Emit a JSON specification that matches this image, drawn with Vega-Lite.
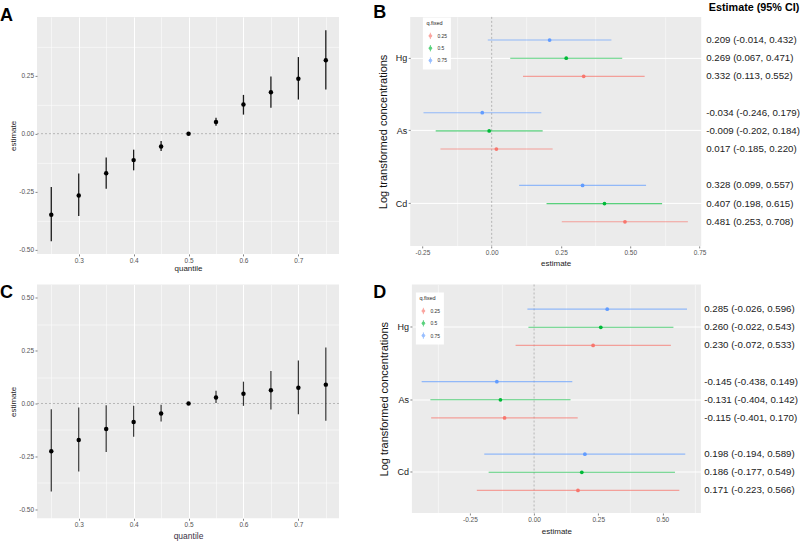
{
  "$schema": "https://vega.github.io/schema/vega-lite/v6.json",
  "padding": {"top": 0.9, "left": 0, "right": 0, "bottom": 0},
  "background": "white",
  "config": {
    "font": "Liberation Sans",
    "view": {"stroke": null},
    "axis": {
      "domain": false,
      "labelOverlap": false,
      "labelFlush": false,
      "tickSize": 2,
      "tickColor": "#333333",
      "tickWidth": 0.6,
      "labelColor": "#555555",
      "labelFontSize": 6.5,
      "labelPadding": 1.5,
      "titleColor": "#222222",
      "titleFontSize": 8,
      "titleFontWeight": "normal",
      "gridColor": "#FFFFFF",
      "gridWidth": 1
    },
    "title": {"fontSize": 18, "fontWeight": "bold", "anchor": "start", "frame": "group", "color": "#000000", "baseline": "alphabetic"},
    "legend": {
      "fillColor": "#FFFFFF",
      "padding": 3.5,
      "titleFontSize": 5.5,
      "titleFontWeight": "normal",
      "titleColor": "#222222",
      "titlePadding": 5.5,
      "labelFontSize": 5,
      "labelColor": "#333333",
      "labelOffset": 3,
      "symbolSize": 40,
      "symbolStrokeWidth": 0.9,
      "rowPadding": 2.3
    }
  },
  "datasets": {
    "qA": [
      {"quantile": 0.25, "est": -0.349, "lo": -0.463, "hi": -0.230},
      {"quantile": 0.30, "est": -0.266, "lo": -0.355, "hi": -0.172},
      {"quantile": 0.35, "est": -0.171, "lo": -0.237, "hi": -0.103},
      {"quantile": 0.40, "est": -0.114, "lo": -0.158, "hi": -0.069},
      {"quantile": 0.45, "est": -0.055, "lo": -0.075, "hi": -0.032},
      {"quantile": 0.50, "est": 0.0, "lo": 0.0, "hi": 0.0},
      {"quantile": 0.55, "est": 0.050, "lo": 0.034, "hi": 0.069},
      {"quantile": 0.60, "est": 0.126, "lo": 0.082, "hi": 0.167},
      {"quantile": 0.65, "est": 0.178, "lo": 0.112, "hi": 0.246},
      {"quantile": 0.70, "est": 0.237, "lo": 0.147, "hi": 0.330},
      {"quantile": 0.75, "est": 0.316, "lo": 0.190, "hi": 0.445}
    ],
    "qC": [
      {"quantile": 0.25, "est": -0.225, "lo": -0.415, "hi": -0.027},
      {"quantile": 0.30, "est": -0.172, "lo": -0.321, "hi": -0.019},
      {"quantile": 0.35, "est": -0.120, "lo": -0.229, "hi": -0.008},
      {"quantile": 0.40, "est": -0.087, "lo": -0.157, "hi": -0.011},
      {"quantile": 0.45, "est": -0.047, "lo": -0.085, "hi": -0.006},
      {"quantile": 0.50, "est": 0.0, "lo": 0.0, "hi": 0.0},
      {"quantile": 0.55, "est": 0.028, "lo": 0.002, "hi": 0.060},
      {"quantile": 0.60, "est": 0.046, "lo": -0.011, "hi": 0.103},
      {"quantile": 0.65, "est": 0.063, "lo": -0.028, "hi": 0.153},
      {"quantile": 0.70, "est": 0.074, "lo": -0.051, "hi": 0.203},
      {"quantile": 0.75, "est": 0.089, "lo": -0.082, "hi": 0.264}
    ],
    "mB": [
      {"metal": "Hg", "q": "0.75", "est": 0.209, "lo": -0.014, "hi": 0.432, "label": "0.209 (-0.014, 0.432)"},
      {"metal": "Hg", "q": "0.5", "est": 0.269, "lo": 0.067, "hi": 0.471, "label": "0.269 (0.067, 0.471)"},
      {"metal": "Hg", "q": "0.25", "est": 0.332, "lo": 0.113, "hi": 0.552, "label": "0.332 (0.113, 0.552)"},
      {"metal": "As", "q": "0.75", "est": -0.034, "lo": -0.246, "hi": 0.179, "label": "-0.034 (-0.246, 0.179)"},
      {"metal": "As", "q": "0.5", "est": -0.009, "lo": -0.202, "hi": 0.184, "label": "-0.009 (-0.202, 0.184)"},
      {"metal": "As", "q": "0.25", "est": 0.017, "lo": -0.185, "hi": 0.220, "label": "0.017 (-0.185, 0.220)"},
      {"metal": "Cd", "q": "0.75", "est": 0.328, "lo": 0.099, "hi": 0.557, "label": "0.328 (0.099, 0.557)"},
      {"metal": "Cd", "q": "0.5", "est": 0.407, "lo": 0.198, "hi": 0.615, "label": "0.407 (0.198, 0.615)"},
      {"metal": "Cd", "q": "0.25", "est": 0.481, "lo": 0.253, "hi": 0.708, "label": "0.481 (0.253, 0.708)"}
    ],
    "mD": [
      {"metal": "Hg", "q": "0.75", "est": 0.285, "lo": -0.026, "hi": 0.596, "label": "0.285 (-0.026, 0.596)"},
      {"metal": "Hg", "q": "0.5", "est": 0.260, "lo": -0.022, "hi": 0.543, "label": "0.260 (-0.022, 0.543)"},
      {"metal": "Hg", "q": "0.25", "est": 0.230, "lo": -0.072, "hi": 0.533, "label": "0.230 (-0.072, 0.533)"},
      {"metal": "As", "q": "0.75", "est": -0.145, "lo": -0.438, "hi": 0.149, "label": "-0.145 (-0.438, 0.149)"},
      {"metal": "As", "q": "0.5", "est": -0.131, "lo": -0.404, "hi": 0.142, "label": "-0.131 (-0.404, 0.142)"},
      {"metal": "As", "q": "0.25", "est": -0.115, "lo": -0.401, "hi": 0.170, "label": "-0.115 (-0.401, 0.170)"},
      {"metal": "Cd", "q": "0.75", "est": 0.198, "lo": -0.194, "hi": 0.589, "label": "0.198 (-0.194, 0.589)"},
      {"metal": "Cd", "q": "0.5", "est": 0.186, "lo": -0.177, "hi": 0.549, "label": "0.186 (-0.177, 0.549)"},
      {"metal": "Cd", "q": "0.25", "est": 0.171, "lo": -0.223, "hi": 0.566, "label": "0.171 (-0.223, 0.566)"}
    ],
    "zero": [{"ref": 0}]
  },
  "bounds": "full",
  "spacing": 10.6,
  "resolve": {"scale": {"x": "independent", "y": "independent", "color": "independent", "yOffset": "independent"}, "legend": {"color": "independent"}},
  "vconcat": [
    {
      "bounds": "full",
      "spacing": 33.2,
      "resolve": {"scale": {"x": "independent", "y": "independent", "color": "independent", "yOffset": "independent"}, "legend": {"color": "independent"}},
      "hconcat": [
        {
          "width": 302,
          "height": 237,
          "view": {"fill": "#EBEBEB", "stroke": null},
          "title": {"text": "A", "dx": -37, "offset": -7.7},
          "resolve": {"axis": {"x": "independent", "y": "independent"}},
          "layer": [
            {
              "data": {"name": "zero"},
              "mark": {"type": "rule", "color": "#A8A8A8", "strokeDash": [2, 2], "strokeWidth": 0.8},
              "encoding": {"y": {"field": "ref", "type": "quantitative",
                "scale": {"domain": [-0.518, 0.503], "nice": false, "zero": false},
                "axis": {"orient": "left", "values": [-0.375, -0.125, 0.125, 0.375], "grid": true, "gridWidth": 0.5, "labels": false, "ticks": false, "title": null}}}
            },
            {
              "data": {"name": "qA"},
              "mark": {"type": "rule", "color": "#1A1A1A", "strokeWidth": 1.3},
              "encoding": {
                "x": {"field": "quantile", "type": "quantitative",
                  "scale": {"domain": [0.224, 0.774], "nice": false, "zero": false},
                  "axis": {"orient": "bottom", "title": "quantile", "titlePadding": 1, "values": [0.3, 0.4, 0.5, 0.6, 0.7], "format": ".1f"}},
                "y": {"field": "lo", "type": "quantitative",
                  "axis": {"orient": "left", "title": "estimate", "titlePadding": 1, "values": [-0.5, -0.25, 0, 0.25],
                    "labelExpr": "replace(format(datum.value,'.2f'),'\u2212','-')"}},
                "y2": {"field": "hi"}
              }
            },
            {
              "data": {"name": "qA"},
              "mark": {"type": "point", "filled": true, "color": "#000000", "size": 20, "opacity": 1},
              "encoding": {
                "x": {"field": "quantile", "type": "quantitative",
                  "axis": {"orient": "bottom", "values": [0.25, 0.35, 0.45, 0.55, 0.65, 0.75], "grid": true, "gridWidth": 0.5, "labels": false, "ticks": false, "title": null}},
                "y": {"field": "est", "type": "quantitative", "axis": null}
              }
            }
          ]
        },
        {
          "bounds": "full",
          "spacing": -2.7,
          "resolve": {"scale": {"x": "independent", "y": "independent", "color": "independent", "yOffset": "independent"}, "legend": {"color": "independent"}},
          "hconcat": [
            {
              "width": 291,
              "height": 229,
              "view": {"fill": "#EBEBEB", "stroke": null},
              "title": {"text": "B", "dx": -37, "offset": -5.7},
              "resolve": {"axis": {"x": "independent"}},
              "layer": [
                {
                  "data": {"name": "zero"},
                  "mark": {"type": "rule", "color": "#A8A8A8", "strokeDash": [2, 2], "strokeWidth": 0.8},
                  "encoding": {"x": {"field": "ref", "type": "quantitative",
                    "scale": {"domain": [-0.294, 0.756], "nice": false, "zero": false},
                    "axis": {"orient": "bottom", "values": [-0.125, 0.125, 0.375, 0.625], "grid": true, "gridWidth": 0.5, "labels": false, "ticks": false, "title": null}}}
                },
                {
                  "data": {"name": "mB"},
                  "mark": {"type": "rule", "strokeWidth": 1.1, "opacity": 0.65},
                  "encoding": {
                    "x": {"field": "lo", "type": "quantitative",
                      "axis": {"orient": "bottom", "title": "estimate", "titlePadding": 4, "values": [-0.25, 0, 0.25, 0.5, 0.75],
                        "labelExpr": "replace(format(datum.value,'.2f'),'\u2212','-')"}},
                    "x2": {"field": "hi"},
                    "y": {"field": "metal", "type": "nominal",
                      "scale": {"type": "band", "domain": ["Hg", "As", "Cd"], "paddingInner": 0, "paddingOuter": 0.075, "align": 0.454},
                      "axis": {"title": "Log transformed concentrations", "titleFontSize": 11, "titleColor": "#111111", "titlePadding": 7,
                        "labelFontSize": 9, "labelColor": "#1A1A1A", "bandPosition": 0.5, "grid": true, "gridWidth": 1}},
                    "yOffset": {"field": "q", "type": "nominal",
                      "scale": {"type": "band", "domain": ["0.75", "0.5", "0.25"], "paddingInner": 0, "paddingOuter": 0.5}},
                    "color": {"field": "q", "type": "nominal",
                      "scale": {"domain": ["0.25", "0.5", "0.75"], "range": ["#F8766D", "#00BA38", "#619CFF"]},
                      "legend": {"title": "q.fixed", "orient": "none", "legendX": 12.7, "legendY": 0.5,
                        "symbolType": "M0,-1L0,1M-0.45,0a0.45,0.45 0 1,0 0.9,0a0.45,0.45 0 1,0 -0.9,0",
                        "encode": {"symbols": {
                          "opacity": {"value": 1},
                          "fill": {"condition": [{"test": "datum.value === '0.25'", "value": "#F8766D"}, {"test": "datum.value === '0.5'", "value": "#00BA38"}], "value": "#619CFF"},
                          "stroke": {"condition": [{"test": "datum.value === '0.25'", "value": "#F8766D"}, {"test": "datum.value === '0.5'", "value": "#00BA38"}], "value": "#619CFF"}}}}}
                  }
                },
                {
                  "data": {"name": "mB"},
                  "mark": {"type": "point", "filled": true, "size": 14, "opacity": 1},
                  "encoding": {
                    "x": {"field": "est", "type": "quantitative", "axis": null},
                    "y": {"field": "metal", "type": "nominal"},
                    "yOffset": {"field": "q", "type": "nominal"},
                    "color": {"field": "q", "type": "nominal",
                      "legend": {"title": "q.fixed", "orient": "none", "legendX": 12.7, "legendY": 0.5,
                        "symbolType": "M0,-1L0,1M-0.45,0a0.45,0.45 0 1,0 0.9,0a0.45,0.45 0 1,0 -0.9,0",
                        "encode": {"symbols": {
                          "opacity": {"value": 1},
                          "fill": {"condition": [{"test": "datum.value === '0.25'", "value": "#F8766D"}, {"test": "datum.value === '0.5'", "value": "#00BA38"}], "value": "#619CFF"},
                          "stroke": {"condition": [{"test": "datum.value === '0.25'", "value": "#F8766D"}, {"test": "datum.value === '0.5'", "value": "#00BA38"}], "value": "#619CFF"}}}}}
                  }
                }
              ]
            },
            {
              "width": 96,
              "height": 229,
              "title": {"text": "Estimate (95% CI)", "fontSize": 10.8, "dx": 2.6, "offset": 4.3},
              "data": {"name": "mB"},
              "mark": {"type": "text", "align": "left", "baseline": "middle", "fontSize": 9.7, "color": "#222222"},
              "encoding": {
                "x": {"datum": 0, "type": "quantitative", "scale": {"domain": [0, 1]}, "axis": null},
                "y": {"field": "metal", "type": "nominal",
                  "scale": {"type": "band", "domain": ["Hg", "As", "Cd"], "paddingInner": 0, "paddingOuter": 0.075, "align": 0.454}, "axis": null},
                "yOffset": {"field": "q", "type": "nominal",
                  "scale": {"type": "band", "domain": ["0.75", "0.5", "0.25"], "paddingInner": 0, "paddingOuter": 0.5}},
                "text": {"field": "label", "type": "nominal"}
              }
            }
          ]
        }
      ]
    },
    {
      "bounds": "full",
      "spacing": 32.9,
      "resolve": {"scale": {"x": "independent", "y": "independent", "color": "independent", "yOffset": "independent"}, "legend": {"color": "independent"}},
      "hconcat": [
        {
          "width": 302,
          "height": 233.8,
          "view": {"fill": "#EBEBEB", "stroke": null},
          "title": {"text": "C", "dx": -37, "offset": -17.5},
          "resolve": {"axis": {"x": "independent", "y": "independent"}},
          "layer": [
            {
              "data": {"name": "zero"},
              "mark": {"type": "rule", "color": "#A8A8A8", "strokeDash": [2, 2], "strokeWidth": 0.8},
              "encoding": {"y": {"field": "ref", "type": "quantitative",
                "scale": {"domain": [-0.542, 0.5618], "nice": false, "zero": false},
                "axis": {"orient": "left", "values": [-0.375, -0.125, 0.125, 0.375], "grid": true, "gridWidth": 0.5, "labels": false, "ticks": false, "title": null}}}
            },
            {
              "data": {"name": "qC"},
              "mark": {"type": "rule", "color": "#333333", "strokeWidth": 1.2},
              "encoding": {
                "x": {"field": "quantile", "type": "quantitative",
                  "scale": {"domain": [0.224, 0.774], "nice": false, "zero": false},
                  "axis": {"orient": "bottom", "title": "quantile", "titlePadding": 3.5, "titleFontSize": 8.5, "titleColor": "#3A3045",
                    "values": [0.3, 0.4, 0.5, 0.6, 0.7], "format": ".1f"}},
                "y": {"field": "lo", "type": "quantitative",
                  "axis": {"orient": "left", "title": "estimate", "titlePadding": 1, "values": [-0.5, -0.25, 0, 0.25, 0.5],
                    "labelExpr": "replace(format(datum.value,'.2f'),'\u2212','-')"}},
                "y2": {"field": "hi"}
              }
            },
            {
              "data": {"name": "qC"},
              "mark": {"type": "point", "filled": true, "color": "#000000", "size": 20, "opacity": 1},
              "encoding": {
                "x": {"field": "quantile", "type": "quantitative",
                  "axis": {"orient": "bottom", "values": [0.25, 0.35, 0.45, 0.55, 0.65, 0.75], "grid": true, "gridWidth": 0.5, "labels": false, "ticks": false, "title": null}},
                "y": {"field": "est", "type": "quantitative", "axis": null}
              }
            }
          ]
        },
        {
          "bounds": "full",
          "spacing": 3.3,
          "resolve": {"scale": {"x": "independent", "y": "independent", "color": "independent", "yOffset": "independent"}, "legend": {"color": "independent"}},
          "hconcat": [
            {
              "width": 289,
              "height": 228.5,
              "view": {"fill": "#EBEBEB", "stroke": null},
              "title": {"text": "D", "dx": -38.7, "offset": -17.5},
              "resolve": {"axis": {"x": "independent"}},
              "layer": [
                {
                  "data": {"name": "zero"},
                  "mark": {"type": "rule", "color": "#A8A8A8", "strokeDash": [2, 2], "strokeWidth": 0.8},
                  "encoding": {"x": {"field": "ref", "type": "quantitative",
                    "scale": {"domain": [-0.476, 0.65], "nice": false, "zero": false},
                    "axis": {"orient": "bottom", "values": [-0.375, -0.125, 0.125, 0.375, 0.625], "grid": true, "gridWidth": 0.5, "labels": false, "ticks": false, "title": null}}}
                },
                {
                  "data": {"name": "mD"},
                  "mark": {"type": "rule", "strokeWidth": 1.1, "opacity": 0.65},
                  "encoding": {
                    "x": {"field": "lo", "type": "quantitative",
                      "axis": {"orient": "bottom", "title": "estimate", "titlePadding": 5, "values": [-0.25, 0, 0.25, 0.5],
                        "labelExpr": "replace(format(datum.value,'.2f'),'\u2212','-')"}},
                    "x2": {"field": "hi"},
                    "y": {"field": "metal", "type": "nominal",
                      "scale": {"type": "band", "domain": ["Hg", "As", "Cd"], "paddingInner": 0, "paddingOuter": 0.0759, "align": 0.595},
                      "axis": {"title": "Log transformed concentrations", "titleFontSize": 11, "titleColor": "#111111", "titlePadding": 7,
                        "labelFontSize": 9, "labelColor": "#1A1A1A", "bandPosition": 0.5, "grid": true, "gridWidth": 1}},
                    "yOffset": {"field": "q", "type": "nominal",
                      "scale": {"type": "band", "domain": ["0.75", "0.5", "0.25"], "paddingInner": 0, "paddingOuter": 0.5}},
                    "color": {"field": "q", "type": "nominal",
                      "scale": {"domain": ["0.25", "0.5", "0.75"], "range": ["#F8766D", "#00BA38", "#619CFF"]},
                      "legend": {"title": "q.fixed", "orient": "none", "legendX": 4, "legendY": 8,
                        "symbolType": "M0,-1L0,1M-0.45,0a0.45,0.45 0 1,0 0.9,0a0.45,0.45 0 1,0 -0.9,0",
                        "encode": {"symbols": {
                          "opacity": {"value": 1},
                          "fill": {"condition": [{"test": "datum.value === '0.25'", "value": "#F8766D"}, {"test": "datum.value === '0.5'", "value": "#00BA38"}], "value": "#619CFF"},
                          "stroke": {"condition": [{"test": "datum.value === '0.25'", "value": "#F8766D"}, {"test": "datum.value === '0.5'", "value": "#00BA38"}], "value": "#619CFF"}}}}}
                  }
                },
                {
                  "data": {"name": "mD"},
                  "mark": {"type": "point", "filled": true, "size": 14, "opacity": 1},
                  "encoding": {
                    "x": {"field": "est", "type": "quantitative", "axis": null},
                    "y": {"field": "metal", "type": "nominal"},
                    "yOffset": {"field": "q", "type": "nominal"},
                    "color": {"field": "q", "type": "nominal",
                      "legend": {"title": "q.fixed", "orient": "none", "legendX": 4, "legendY": 8,
                        "symbolType": "M0,-1L0,1M-0.45,0a0.45,0.45 0 1,0 0.9,0a0.45,0.45 0 1,0 -0.9,0",
                        "encode": {"symbols": {
                          "opacity": {"value": 1},
                          "fill": {"condition": [{"test": "datum.value === '0.25'", "value": "#F8766D"}, {"test": "datum.value === '0.5'", "value": "#00BA38"}], "value": "#619CFF"},
                          "stroke": {"condition": [{"test": "datum.value === '0.25'", "value": "#F8766D"}, {"test": "datum.value === '0.5'", "value": "#00BA38"}], "value": "#619CFF"}}}}}
                  }
                }
              ]
            },
            {
              "width": 96,
              "height": 228.5,
              "data": {"name": "mD"},
              "mark": {"type": "text", "align": "left", "baseline": "middle", "fontSize": 9.7, "color": "#222222"},
              "encoding": {
                "x": {"datum": 0, "type": "quantitative", "scale": {"domain": [0, 1]}, "axis": null},
                "y": {"field": "metal", "type": "nominal",
                  "scale": {"type": "band", "domain": ["Hg", "As", "Cd"], "paddingInner": 0, "paddingOuter": 0.0759, "align": 0.595}, "axis": null},
                "yOffset": {"field": "q", "type": "nominal",
                  "scale": {"type": "band", "domain": ["0.75", "0.5", "0.25"], "paddingInner": 0, "paddingOuter": 0.5}},
                "text": {"field": "label", "type": "nominal"}
              }
            }
          ]
        }
      ]
    }
  ]
}
